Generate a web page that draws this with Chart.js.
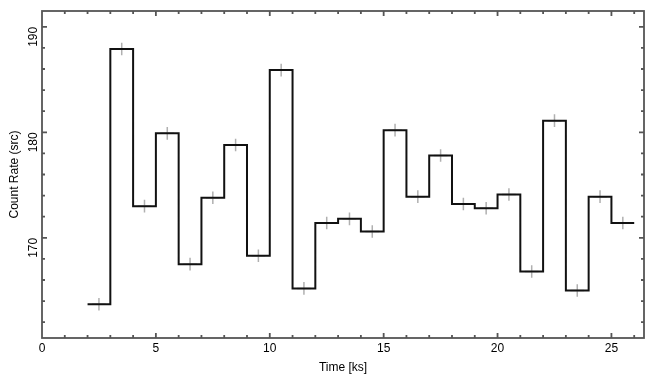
<!DOCTYPE html>
<html>
<head>
<meta charset="utf-8">
<script src="https://cdn.jsdelivr.net/npm/chart.js@4/dist/chart.umd.min.js"></script>
<style>
  html, body { margin: 0; padding: 0; background: #fff; }
  #wrap { width: 655px; height: 385px; }
</style>
</head>
<body>
<div id="wrap"><canvas id="lc"></canvas></div>
<script>
// bin start times [ks], each bin 1 ks wide
const binStart = [2, 3, 4, 5, 6, 7, 8, 9, 10, 11, 12, 13, 14, 15, 16, 17, 18, 19, 20, 21, 22, 23, 24, 25];
const binWidth = 1;
// count rate per bin
const rate = [163.7, 187.9, 173.0, 179.9, 167.5, 173.8, 178.8, 168.3, 185.9, 165.2, 171.4, 171.8,
              170.6, 180.2, 173.9, 177.8, 173.2, 172.8, 174.1, 166.8, 181.1, 165.0, 173.9, 171.4];
const rateErr = [0.6, 0.6, 0.6, 0.6, 0.6, 0.6, 0.6, 0.6, 0.6, 0.6, 0.6, 0.6,
                 0.6, 0.6, 0.6, 0.6, 0.6, 0.6, 0.6, 0.6, 0.6, 0.6, 0.6, 0.6];
const xTicks = [0, 5, 10, 15, 20, 25];
const yTicks = [170, 180, 190];

const stepPts = binStart.map((x, i) => ({ x: x, y: rate[i] }));
stepPts.push({ x: binStart[binStart.length - 1] + binWidth, y: rate[rate.length - 1] });

const font = { family: "'Liberation Sans', Arial, sans-serif", size: 12 };

// gray error crosses, drawn under the step line
const errorBars = {
  id: "errorBars",
  beforeDatasetsDraw(chart) {
    const { ctx, scales: { x, y } } = chart;
    ctx.save();
    ctx.strokeStyle = "#b0b0b0";
    ctx.lineWidth = 1.5;
    binStart.forEach((b, i) => {
      const cx = x.getPixelForValue(b + binWidth / 2);
      ctx.beginPath();
      ctx.moveTo(cx, y.getPixelForValue(rate[i] - rateErr[i]));
      ctx.lineTo(cx, y.getPixelForValue(rate[i] + rateErr[i]));
      ctx.moveTo(x.getPixelForValue(b + 0.2), y.getPixelForValue(rate[i]));
      ctx.lineTo(x.getPixelForValue(b + 0.8), y.getPixelForValue(rate[i]));
      ctx.stroke();
    });
    ctx.restore();
  }
};

// inward ticks on all four sides, plus frame
const frameTicks = {
  id: "frameTicks",
  afterDraw(chart) {
    const { ctx, chartArea: a, scales: { x, y } } = chart;
    ctx.save();
    ctx.strokeStyle = "#555";
    ctx.lineWidth = 1.8;
    ctx.strokeRect(a.left, a.top, a.right - a.left, a.bottom - a.top);
    ctx.beginPath();
    for (let v = 1; v <= 26; v++) {
      const px = x.getPixelForValue(v);
      const len = v % 5 === 0 ? 5 : 3;
      ctx.moveTo(px, a.bottom); ctx.lineTo(px, a.bottom - len);
      ctx.moveTo(px, a.top); ctx.lineTo(px, a.top + len);
    }
    for (let v = 162; v <= 190; v += 2) {
      const py = y.getPixelForValue(v);
      const len = v % 10 === 0 ? 5 : 3;
      ctx.moveTo(a.left, py); ctx.lineTo(a.left + len, py);
      ctx.moveTo(a.right, py); ctx.lineTo(a.right - len, py);
    }
    ctx.stroke();
    ctx.restore();
  }
};

new Chart(document.getElementById("lc"), {
  type: "line",
  data: {
    datasets: [{
      data: stepPts,
      stepped: "before",
      borderColor: "#111",
      borderWidth: 2,
      pointRadius: 0,
      fill: false
    }]
  },
  options: {
    responsive: true,
    maintainAspectRatio: false,
    animation: false,
    layout: { padding: { top: 11, right: 11 } },
    plugins: { legend: { display: false }, tooltip: { enabled: false } },
    scales: {
      x: {
        type: "linear",
        min: 0,
        max: 26.43,
        grid: { display: false, drawTicks: false },
        border: { display: false },
        afterBuildTicks: s => { s.ticks = xTicks.map(v => ({ value: v })); },
        afterFit: s => { s.height = 47; s.paddingLeft = 0; s.paddingRight = 0; },
        ticks: { font: font, color: "#000", padding: 3, maxRotation: 0 },
        title: { display: true, text: "Time [ks]", font: font, color: "#000", padding: { top: 0, bottom: 10 } }
      },
      y: {
        type: "linear",
        min: 160.5,
        max: 191.5,
        grid: { display: false, drawTicks: false },
        border: { display: false },
        afterBuildTicks: s => { s.ticks = yTicks.map(v => ({ value: v })); },
        afterFit: s => { s.width = 42; s.paddingTop = 0; s.paddingBottom = 0; },
        ticks: { font: font, color: "#000", padding: 8, minRotation: 90, maxRotation: 90 },
        title: { display: true, text: "Count Rate (src)", font: font, color: "#000", padding: { top: 7, bottom: 0 } }
      }
    }
  },
  plugins: [errorBars, frameTicks]
});
</script>
</body>
</html>
